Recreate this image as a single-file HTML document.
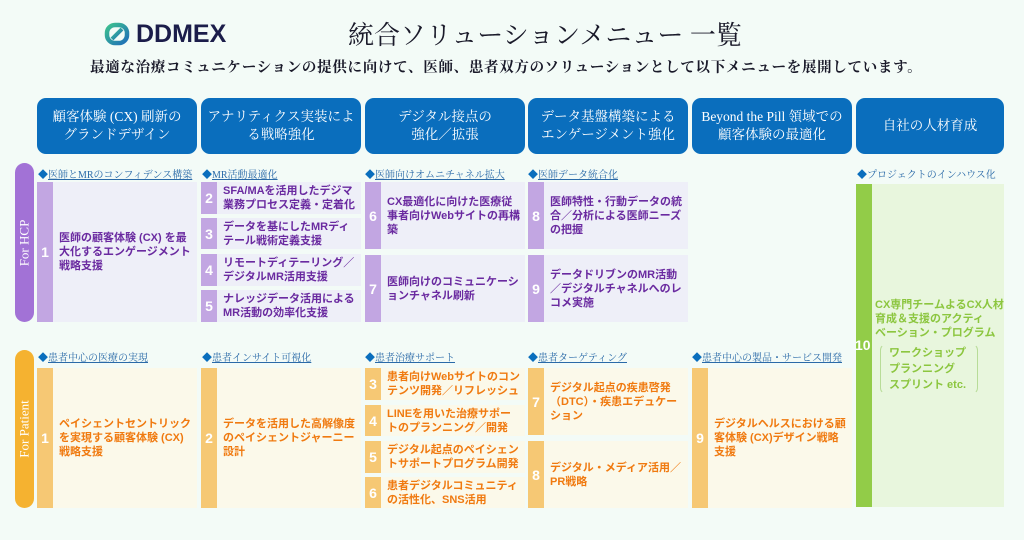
<!DOCTYPE html>
<html><head><meta charset="utf-8"><style>
*{margin:0;padding:0;box-sizing:border-box}
body{width:1024px;height:540px;background:#f3fbf7;position:relative;overflow:hidden;font-family:"Liberation Sans","Noto Sans CJK JP",sans-serif}
.a{position:absolute}
.serif{font-family:"Liberation Serif","Noto Serif CJK SC",serif}
.hd{position:absolute;top:98px;height:56px;background:#0a6ebd;border-radius:9px;color:#fff;display:flex;align-items:center;justify-content:center;text-align:center;font-size:13.5px;line-height:18px;font-family:"Liberation Serif","Noto Serif CJK SC",serif}
.sub{position:absolute;font-size:10px;color:#2a6aa8;font-family:"Liberation Serif","Noto Serif CJK SC",serif;white-space:nowrap}
.sub b{color:#0a6ebd;font-weight:normal;text-decoration:none}
.sub span{text-decoration:underline}
.box{position:absolute;display:flex;align-items:center}
.num{width:16px;height:100%;display:flex;align-items:center;justify-content:center;color:#fff;font-weight:bold;font-size:14px;flex:none}
.txt{padding-left:6px;font-weight:bold;font-size:11px;line-height:14px;padding-right:4px}
.h{background:#eeeff8}.h .num{background:#c2a6e2}.h .txt{color:#6a2aa0}
.p{background:#fbf9ea}.p .num{background:#f6c874}.p .txt{color:#f07a10}
.side{position:absolute;left:15px;width:19px;border-radius:10px;color:#fff;font-family:"Liberation Serif",serif;font-size:13px;display:flex;align-items:center;justify-content:center}
.side span{transform:rotate(-90deg);white-space:nowrap}
</style></head><body>
<svg class="a" style="left:104px;top:22px" width="26" height="24" viewBox="0 0 26 24"><defs><linearGradient id="g" x1="0" y1="0" x2="1" y2="1"><stop offset="0" stop-color="#3cc08f"/><stop offset="1" stop-color="#1f6fb8"/></linearGradient></defs><rect x="3" y="3" width="20" height="18" rx="8" fill="none" stroke="url(#g)" stroke-width="4.5"/><line x1="8" y1="17" x2="18" y2="7" stroke="url(#g)" stroke-width="4"/></svg>
<div class="a" style="left:136px;top:20px;font-size:25px;font-weight:bold;color:#1b1d4a">DDMEX</div>
<div class="a serif" style="left:348px;top:15px;font-size:26px;color:#1a1a2a">統合ソリューションメニュー 一覧</div>
<div class="a serif" style="left:90px;top:56px;font-size:14.5px;font-weight:bold;color:#1a1a2a;letter-spacing:0.7px">最適な治療コミュニケーションの提供に向けて、医師、患者双方のソリューションとして以下メニューを展開しています。</div>

<div class="hd" style="left:37px;width:160px">顧客体験 (CX) 刷新の<br>グランドデザイン</div>
<div class="hd" style="left:201px;width:160px">アナリティクス実装によ<br>る戦略強化</div>
<div class="hd" style="left:365px;width:160px">デジタル接点の<br>強化／拡張</div>
<div class="hd" style="left:528px;width:160px">データ基盤構築による<br>エンゲージメント強化</div>
<div class="hd" style="left:692px;width:160px">Beyond the Pill 領域での<br>顧客体験の最適化</div>
<div class="hd" style="left:856px;width:148px">自社の人材育成</div>

<div class="side" style="top:163px;height:159px;background:#a272d6"><span>For HCP</span></div>
<div class="side" style="top:350px;height:158px;background:#f5b230"><span>For Patient</span></div>

<div class="sub" style="left:38px;top:166px"><b>◆</b><span>医師とMRのコンフィデンス構築</span></div>
<div class="sub" style="left:202px;top:166px"><b>◆</b><span>MR活動最適化</span></div>
<div class="sub" style="left:365px;top:166px"><b>◆</b><span>医師向けオムニチャネル拡大</span></div>
<div class="sub" style="left:528px;top:166px"><b>◆</b><span>医師データ統合化</span></div>
<div class="sub" style="left:857px;top:166px"><b>◆</b>プロジェクトのインハウス化</div>

<div class="box h" style="left:37px;top:182px;width:160px;height:140px"><div class="num">1</div><div class="txt">医師の顧客体験 (CX) を最大化するエンゲージメント戦略支援</div></div>
<div class="box h" style="left:201px;top:182px;width:160px;height:32px"><div class="num">2</div><div class="txt">SFA/MAを活用したデジマ業務プロセス定義・定着化</div></div>
<div class="box h" style="left:201px;top:218px;width:160px;height:31px"><div class="num">3</div><div class="txt">データを基にしたMRディテール戦術定義支援</div></div>
<div class="box h" style="left:201px;top:254px;width:160px;height:32px"><div class="num">4</div><div class="txt">リモートディテーリング／デジタルMR活用支援</div></div>
<div class="box h" style="left:201px;top:290px;width:160px;height:32px"><div class="num">5</div><div class="txt">ナレッジデータ活用によるMR活動の効率化支援</div></div>
<div class="box h" style="left:365px;top:182px;width:160px;height:67px"><div class="num">6</div><div class="txt">CX最適化に向けた医療従事者向けWebサイトの再構築</div></div>
<div class="box h" style="left:365px;top:255px;width:160px;height:67px"><div class="num">7</div><div class="txt">医師向けのコミュニケーションチャネル刷新</div></div>
<div class="box h" style="left:528px;top:182px;width:160px;height:67px"><div class="num">8</div><div class="txt">医師特性・行動データの統合／分析による医師ニーズの把握</div></div>
<div class="box h" style="left:528px;top:255px;width:160px;height:67px"><div class="num">9</div><div class="txt">データドリブンのMR活動／デジタルチャネルへのレコメ実施</div></div>

<div class="a" style="left:856px;top:184px;width:148px;height:323px;background:#e8f6dd"></div>
<div class="a" style="left:856px;top:184px;width:16px;height:323px;background:#92cc48"></div>
<div class="a" style="left:855px;top:337px;color:#fff;font-weight:bold;font-size:14px">10</div>
<div class="a" style="left:875px;top:298px;width:132px;color:#8cc63f;font-weight:bold;font-size:11px;line-height:14px;white-space:nowrap">CX専門チームよるCX人材<br>育成＆支援のアクティ<br>ベーション・プログラム</div>
<div class="a" style="left:880px;top:344px;width:98px;height:50px;border:1px solid #b8dc98;border-radius:6px;border-top-color:transparent;border-bottom-color:transparent"></div>
<div class="a" style="left:889px;top:345px;color:#8cc63f;font-weight:bold;font-size:11px;line-height:16px">ワークショップ<br>プランニング<br>スプリント etc.</div>

<div class="sub" style="left:38px;top:349px"><b>◆</b><span>患者中心の医療の実現</span></div>
<div class="sub" style="left:202px;top:349px"><b>◆</b><span>患者インサイト可視化</span></div>
<div class="sub" style="left:365px;top:349px"><b>◆</b><span>患者治療サポート</span></div>
<div class="sub" style="left:528px;top:349px"><b>◆</b><span>患者ターゲティング</span></div>
<div class="sub" style="left:692px;top:349px"><b>◆</b><span>患者中心の製品・サービス開発</span></div>

<div class="box p" style="left:37px;top:368px;width:160px;height:140px"><div class="num">1</div><div class="txt">ペイシェントセントリックを実現する顧客体験 (CX)戦略支援</div></div>
<div class="box p" style="left:201px;top:368px;width:160px;height:140px"><div class="num">2</div><div class="txt">データを活用した高解像度のペイシェントジャーニー設計</div></div>
<div class="box p" style="left:365px;top:368px;width:160px;height:32px"><div class="num">3</div><div class="txt">患者向けWebサイトのコンテンツ開発／リフレッシュ</div></div>
<div class="box p" style="left:365px;top:405px;width:160px;height:31px"><div class="num">4</div><div class="txt">LINEを用いた治療サポートのプランニング／開発</div></div>
<div class="box p" style="left:365px;top:441px;width:160px;height:32px"><div class="num">5</div><div class="txt">デジタル起点のペイシェントサポートプログラム開発</div></div>
<div class="box p" style="left:365px;top:477px;width:160px;height:31px"><div class="num">6</div><div class="txt">患者デジタルコミュニティの活性化、SNS活用</div></div>
<div class="box p" style="left:528px;top:368px;width:160px;height:67px"><div class="num">7</div><div class="txt">デジタル起点の疾患啓発（DTC）・疾患エデュケーション</div></div>
<div class="box p" style="left:528px;top:441px;width:160px;height:67px"><div class="num">8</div><div class="txt">デジタル・メディア活用／PR戦略</div></div>
<div class="box p" style="left:692px;top:368px;width:160px;height:140px"><div class="num">9</div><div class="txt">デジタルヘルスにおける顧客体験 (CX)デザイン戦略支援</div></div>
</body></html>
